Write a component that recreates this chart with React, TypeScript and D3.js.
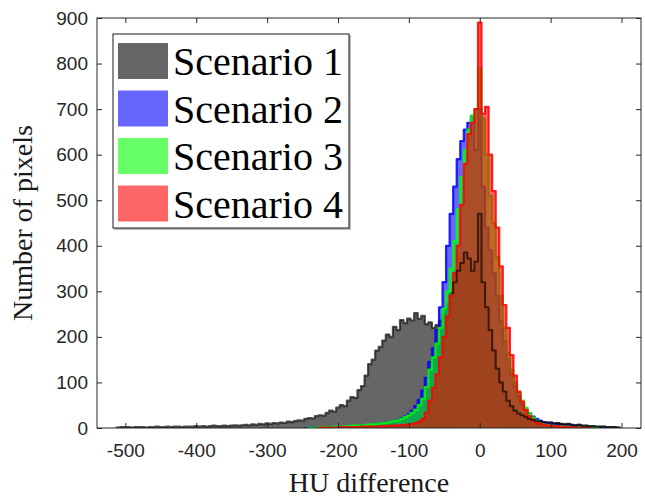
import { useEffect, useRef } from "react";
import * as d3 from "d3";

// histogram bins are 5 HU wide, values are counts per bin
const binWidth = 5;

const scenario1Start = -510;
const scenario1Counts = [
  1, 2, 2, 2, 1, 2, 2, 2, 1, 2, 2, 3, 2, 2, 3, 2, 3, 3, 2, 3, 3, 3, 4, 3, 4, 3, 4, 5, 4, 4, 5, 4, 5, 6, 5, 6, 7, 6, 8, 7, 9, 8,
  10, 9, 11, 10, 12, 11, 14, 13, 15, 17, 16, 20, 22, 21, 26, 28, 27, 33, 38, 36,
  45, 50, 48, 60, 68, 66, 83, 92, 115, 140, 150, 170, 178, 192, 205, 200, 222, 215, 237, 230,
  240, 236, 252, 240, 246, 228, 232, 220, 226, 235, 250, 272, 296, 320, 345, 362, 385, 372, 345, 365,
  470, 320, 265, 215, 170, 130, 100, 80, 60, 48, 38, 32, 28, 24, 20, 18, 16, 15, 13, 12,
  12, 10, 11, 9, 8, 9, 7, 6, 7, 5, 5, 4, 4, 3, 3, 3, 2, 2, 2, 1,
];

const scenario2Start = -245;
const scenario2Counts = [
  0, 1, 1, 1, 1, 2, 1, 2, 2, 2, 3, 3, 3, 4, 4, 5, 5, 6, 7, 7,
  9, 10, 11, 12, 14, 15, 18, 21, 25, 30, 38, 48, 62, 82, 110, 145, 175, 215, 265, 320,
  400, 470, 530, 590, 630, 655, 670, 685, 610, 700, 530, 440, 390, 340, 290, 235, 190, 150, 118, 92,
  70, 52, 40, 32, 25, 20, 16, 13, 11, 9, 8, 7, 6, 5, 4, 4, 3, 3, 2, 2,
  2, 1, 1, 1,
];

const scenario3Start = -240;
const scenario3Counts = [
  1, 1, 1, 2, 2, 2, 2, 3, 3, 3, 4, 4, 5, 5, 6, 6, 7, 8, 8, 9,
  10, 11, 12, 14, 15, 17, 20, 24, 28, 33, 40, 50, 64, 90, 128, 155, 185, 220, 262, 300,
  350, 410, 480, 550, 610, 655, 685, 700, 790, 680, 600, 510, 450, 375, 290, 220, 165, 128, 100, 78,
  60, 45, 32, 23, 16, 12, 9, 7, 6, 5, 4, 4, 3, 3, 2, 2, 2, 1, 1, 1,
  1, 1,
];

const scenario4Start = -225;
const scenario4Counts = [
  1, 1, 1, 1, 1, 1, 2, 2, 2, 2, 2, 2, 3, 3, 3, 3, 3, 4, 4, 4,
  5, 5, 6, 6, 7, 8, 9, 11, 14, 20, 34, 60, 88, 118, 155, 200, 245, 290, 340, 400,
  490, 580, 645, 670, 700, 890, 690, 705, 600, 520, 440, 355, 270, 220, 160, 115, 80, 58, 40, 26,
  18, 13, 10, 8, 6, 5, 4, 4, 3, 3, 2, 2, 2, 1, 1, 1, 1,
];

const seriesNames = ["Scenario 1", "Scenario 2", "Scenario 3", "Scenario 4"];
const seriesColors = ["#000000", "#0000ff", "#00ff00", "#ff0000"];
const seriesStarts = [scenario1Start, scenario2Start, scenario3Start, scenario4Start];
const seriesCounts = [scenario1Counts, scenario2Counts, scenario3Counts, scenario4Counts];

const xTicks = [-500, -400, -300, -200, -100, 0, 100, 200];
const yTicks = [0, 100, 200, 300, 400, 500, 600, 700, 800, 900];

export default function App() {
  const svgRef = useRef<SVGSVGElement>(null);

  useEffect(() => {
    const svg = d3.select(svgRef.current);
    svg.selectAll("*").remove();

    const width = 645;
    const height = 500;
    const plot = { left: 97, right: 641, top: 18, bottom: 428 };

    const x = d3.scaleLinear().domain([-540, 227.5]).range([plot.left, plot.right]);
    const y = d3.scaleLinear().domain([0, 900]).range([plot.bottom, plot.top]);

    svg.attr("width", width).attr("height", height);

    const defs = svg.append("defs");
    defs.append("clipPath")
      .attr("id", "plot-clip")
      .append("rect")
      .attr("x", plot.left)
      .attr("y", plot.top)
      .attr("width", plot.right - plot.left)
      .attr("height", plot.bottom - plot.top);
    // the dark scenario 1 edge shows through the overlapping colours near the centre
    defs.append("clipPath")
      .attr("id", "centre-clip")
      .append("rect")
      .attr("x", x(-40))
      .attr("y", plot.top)
      .attr("width", plot.right - x(-40))
      .attr("height", plot.bottom - plot.top);

    const hist = svg.append("g").attr("clip-path", "url(#plot-clip)");

    const area = d3.area<[number, number]>()
      .x(d => x(d[0]))
      .y0(y(0))
      .y1(d => y(d[1]))
      .curve(d3.curveStepAfter);

    const line = d3.line<[number, number]>()
      .x(d => x(d[0]))
      .y(d => y(d[1]))
      .curve(d3.curveStepAfter);

    const outlines: [number, number][][] = [];

    seriesCounts.forEach((counts, i) => {
      const first = seriesStarts[i] - binWidth / 2;
      const pts: [number, number][] = counts.map((c, k) => [first + k * binWidth, c]);
      pts.push([first + counts.length * binWidth, counts[counts.length - 1]]);
      const outline: [number, number][] = [[first, 0], ...pts, [first + counts.length * binWidth, 0]];
      outlines.push(outline);

      hist.append("path")
        .attr("d", area(pts))
        .attr("fill", seriesColors[i])
        .attr("fill-opacity", 0.6);

      hist.append("path")
        .attr("d", line(outline))
        .attr("fill", "none")
        .attr("stroke", i === 0 ? "#1a1a1a" : seriesColors[i])
        .attr("stroke-opacity", i === 0 ? 0.75 : 0.85)
        .attr("stroke-width", 2.2)
        .attr("stroke-linejoin", "round");
    });

    svg.append("g")
      .attr("clip-path", "url(#centre-clip)")
      .append("path")
      .attr("d", line(outlines[0]))
      .attr("fill", "none")
      .attr("stroke", "#000000")
      .attr("stroke-opacity", 0.6)
      .attr("stroke-width", 2)
      .attr("stroke-linejoin", "round");

    const axisColor = "#262626";
    const tickFont = "'Liberation Sans', Arial, sans-serif";

    // bottom axis, ticks pointing inward
    const gx = svg.append("g")
      .attr("transform", `translate(0,${plot.bottom})`)
      .call(d3.axisBottom(x).tickValues(xTicks).tickSizeInner(-5).tickSizeOuter(0).tickPadding(16)
        .tickFormat(d => String(d)));
    gx.select(".domain").remove();
    gx.selectAll(".tick line").attr("stroke", axisColor);
    gx.selectAll("text").style("font-family", tickFont).style("font-size", "19px").attr("fill", axisColor);

    const gxTop = svg.append("g")
      .attr("transform", `translate(0,${plot.top})`)
      .call(d3.axisTop(x).tickValues(xTicks).tickSizeInner(-5).tickSizeOuter(0).tickFormat(() => ""));
    gxTop.select(".domain").remove();
    gxTop.selectAll(".tick line").attr("stroke", axisColor);

    const gy = svg.append("g")
      .attr("transform", `translate(${plot.left},0)`)
      .call(d3.axisLeft(y).tickValues(yTicks).tickSizeInner(-5).tickSizeOuter(0).tickPadding(9)
        .tickFormat(d => String(d)));
    gy.select(".domain").remove();
    gy.selectAll(".tick line").attr("stroke", axisColor);
    gy.selectAll("text").style("font-family", tickFont).style("font-size", "19px").attr("fill", axisColor);

    const gyRight = svg.append("g")
      .attr("transform", `translate(${plot.right},0)`)
      .call(d3.axisRight(y).tickValues(yTicks).tickSizeInner(-5).tickSizeOuter(0).tickFormat(() => ""));
    gyRight.select(".domain").remove();
    gyRight.selectAll(".tick line").attr("stroke", axisColor);

    // axes box
    svg.append("rect")
      .attr("x", plot.left)
      .attr("y", plot.top)
      .attr("width", plot.right - plot.left)
      .attr("height", plot.bottom - plot.top)
      .attr("fill", "none")
      .attr("stroke", axisColor)
      .attr("stroke-width", 1);

    const serif = "'Liberation Serif', 'Times New Roman', serif";

    svg.append("text")
      .attr("x", (plot.left + plot.right) / 2)
      .attr("y", 492)
      .attr("text-anchor", "middle")
      .style("font-family", serif)
      .style("font-size", "28px")
      .attr("fill", "#1a1a1a")
      .text("HU difference");

    svg.append("text")
      .attr("transform", `translate(32,${(plot.top + plot.bottom) / 2}) rotate(-90)`)
      .attr("text-anchor", "middle")
      .style("font-family", serif)
      .style("font-size", "28px")
      .attr("fill", "#1a1a1a")
      .text("Number of pixels");

    // legend
    const legend = svg.append("g");
    legend.append("rect")
      .attr("x", 114)
      .attr("y", 35)
      .attr("width", 237)
      .attr("height", 195)
      .attr("fill", "#bbbbbb");
    legend.append("rect")
      .attr("x", 113)
      .attr("y", 34)
      .attr("width", 236)
      .attr("height", 194)
      .attr("fill", "#ffffff")
      .attr("stroke", "#1a1a1a")
      .attr("stroke-width", 1);

    seriesNames.forEach((name, i) => {
      const top = 43 + i * 47.5;
      legend.append("rect")
        .attr("x", 118)
        .attr("y", top)
        .attr("width", 50)
        .attr("height", 36)
        .attr("fill", seriesColors[i])
        .attr("fill-opacity", 0.6);
      legend.append("text")
        .attr("x", 173)
        .attr("y", top + 32)
        .style("font-family", serif)
        .style("font-size", "40px")
        .attr("fill", "#000000")
        .text(name);
    });
  }, []);

  return <svg ref={svgRef} style={{ position: "absolute", left: 0, top: 0 }} />;
}
